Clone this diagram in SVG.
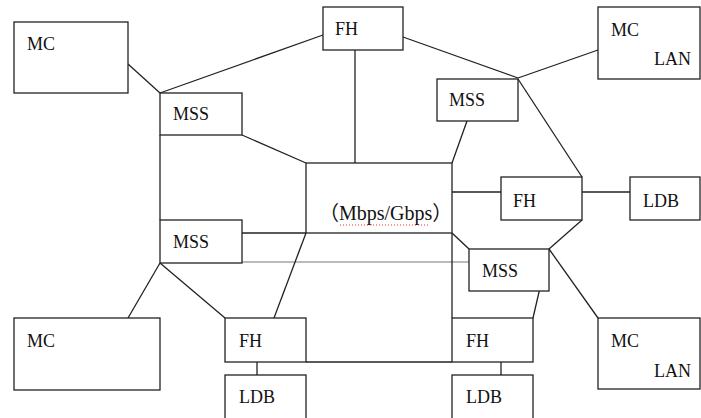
<svg xmlns="http://www.w3.org/2000/svg" width="701" height="418" viewBox="0 0 701 418">
<style>
.b{fill:#fff;stroke:#222;stroke-width:1.3}
.t{font-family:"Liberation Serif","Noto Sans CJK SC",serif;font-size:18px;fill:#111}
.c line{stroke:#222;stroke-width:1.3}
.c line.g{stroke:#777;stroke-width:1}
</style>
<rect width="701" height="418" fill="#fff"/>
<g class="c" id="connectors">
<line x1="128" y1="64" x2="160" y2="93"/>
<line x1="160" y1="93" x2="323" y2="35"/>
<line x1="355" y1="50" x2="355" y2="163"/>
<line x1="403" y1="37" x2="518" y2="78"/>
<line x1="598" y1="50" x2="518" y2="78"/>
<line x1="518" y1="79" x2="582" y2="177"/>
<line x1="467" y1="121" x2="452" y2="163"/>
<line x1="242" y1="135" x2="306" y2="163"/>
<line x1="160" y1="135" x2="160" y2="220"/>
<line x1="452" y1="192" x2="501" y2="192"/>
<line x1="582" y1="192" x2="630" y2="192"/>
<line x1="582" y1="220" x2="549" y2="249"/>
<line x1="242" y1="233" x2="306" y2="233"/>
<line class="g" x1="242" y1="262" x2="469" y2="262"/>
<line x1="452" y1="233" x2="469" y2="249"/>
<line x1="452" y1="233" x2="452" y2="318"/>
<line x1="306" y1="233" x2="274" y2="318"/>
<line x1="160" y1="263" x2="128" y2="318"/>
<line x1="160" y1="263" x2="225" y2="318"/>
<line x1="549" y1="249" x2="533" y2="318"/>
<line x1="549" y1="249" x2="598" y2="318"/>
<line x1="306" y1="362" x2="452" y2="362"/>
<line x1="257" y1="362" x2="257" y2="375"/>
<line x1="501" y1="362" x2="501" y2="375"/>
</g>
<g id="mc1"><rect class="b" x="14" y="22" width="114" height="71"/><text class="t" x="27" y="50">MC</text></g>
<g id="fh1"><rect class="b" x="323" y="7" width="80" height="43"/><text class="t" x="335" y="35">FH</text></g>
<g id="mclan1"><rect class="b" x="598" y="7" width="102" height="72"/><text class="t" x="611" y="36">MC</text><text class="t" x="654" y="65">LAN</text></g>
<g id="mss1"><rect class="b" x="160" y="93" width="82" height="42"/><text class="t" x="173" y="120">MSS</text></g>
<g id="mss2"><rect class="b" x="437" y="79" width="81" height="42"/><text class="t" x="449" y="106">MSS</text></g>
<g id="center"><rect class="b" x="306" y="163" width="146" height="70"/><text class="t" x="319" y="220" style="font-size:20px">（Mbps/Gbps）</text><line x1="340" y1="225" x2="428" y2="225" stroke="#e33" stroke-width="1.2" stroke-dasharray="1 2"/></g>
<g id="fh2"><rect class="b" x="501" y="177" width="81" height="43"/><text class="t" x="513" y="207">FH</text></g>
<g id="ldb1"><rect class="b" x="630" y="177" width="70" height="43"/><text class="t" x="643" y="207">LDB</text></g>
<g id="mss3"><rect class="b" x="160" y="220" width="82" height="43"/><text class="t" x="173" y="248">MSS</text></g>
<g id="mss4"><rect class="b" x="469" y="249" width="80" height="42"/><text class="t" x="482" y="277">MSS</text></g>
<g id="mc2"><rect class="b" x="14" y="318" width="146" height="72"/><text class="t" x="27" y="347">MC</text></g>
<g id="fh3"><rect class="b" x="225" y="318" width="81" height="44"/><text class="t" x="239" y="347">FH</text></g>
<g id="fh4"><rect class="b" x="452" y="318" width="81" height="44"/><text class="t" x="466" y="347">FH</text></g>
<g id="mclan2"><rect class="b" x="598" y="318" width="102" height="71"/><text class="t" x="611" y="347">MC</text><text class="t" x="654" y="377">LAN</text></g>
<g id="ldb2"><rect class="b" x="225" y="375" width="81" height="50"/><text class="t" x="239" y="403">LDB</text></g>
<g id="ldb3"><rect class="b" x="452" y="375" width="81" height="50"/><text class="t" x="466" y="403">LDB</text></g>
</svg>
